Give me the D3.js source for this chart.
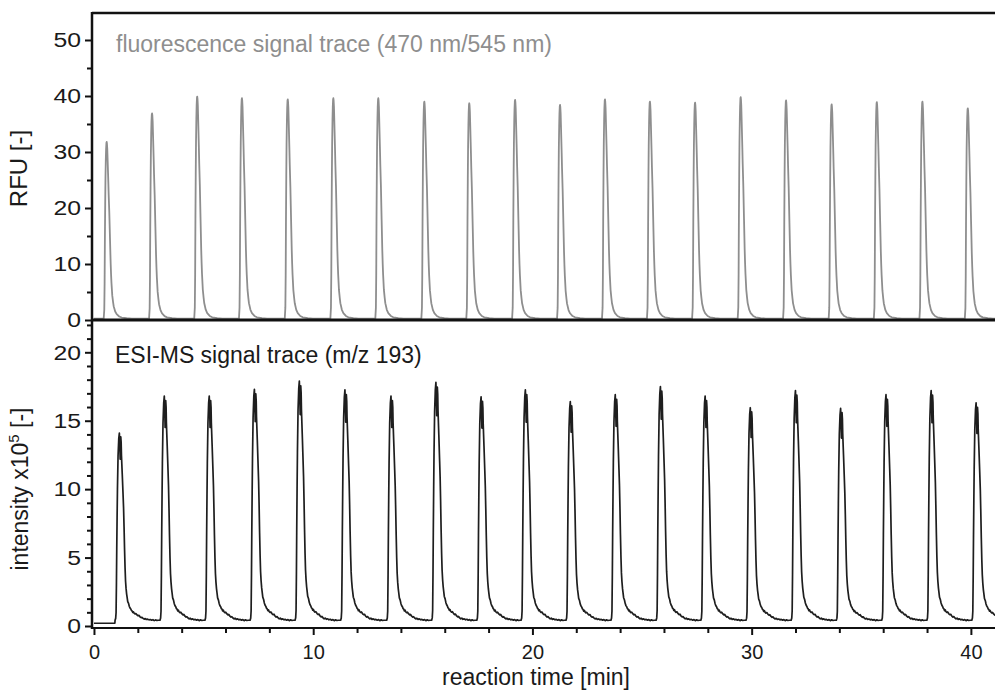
<!DOCTYPE html>
<html>
<head>
<meta charset="utf-8">
<script src="https://cdn.jsdelivr.net/npm/d3@7"></script>
<style>
  html, body { margin: 0; padding: 0; background: #fff; }
  svg { display: block; font-family: "Liberation Sans", Arial, Helvetica, sans-serif; }
</style>
</head>
<body>
<div id="chart"></div>
<script>
// Two stacked traces sharing one time axis: fluorescence on top, ESI-MS below

// apex time [min] and apex height of every peak
const fluoPeakTimes = [0.58, 2.65, 4.71, 6.75, 8.84, 10.92, 12.97, 15.07, 17.12, 19.21,
  21.26, 23.31, 25.36, 27.42, 29.50, 31.57, 33.65, 35.71, 37.79, 39.86];
const fluoPeakHeights = [31.8, 36.9, 39.9, 39.6, 39.4, 39.6, 39.6, 39.0, 38.7, 39.3,
  38.4, 39.4, 39.0, 38.8, 39.8, 39.2, 38.5, 38.9, 39.0, 37.8];

const msPeakTimes = [1.19, 3.24, 5.29, 7.35, 9.40, 11.48, 13.58, 15.63, 17.69, 19.71,
  21.76, 23.81, 25.87, 27.91, 29.97, 32.03, 34.09, 36.16, 38.22, 40.27];
const msPeakHeights = [14.1, 16.8, 16.8, 17.3, 17.9, 17.25, 16.8, 17.8, 16.75, 17.25,
  16.4, 16.9, 17.5, 16.8, 15.95, 17.2, 15.9, 16.9, 17.2, 16.3];

// shape of one peak: [minutes from apex, fraction of apex height above baseline]
const fluoProfile = [
  [-0.137, 0], [-0.11, 0.05], [-0.095, 0.2], [-0.082, 0.45], [-0.068, 0.65], [-0.055, 0.8],
  [-0.04, 0.9], [-0.027, 0.96], [-0.012, 0.995], [0, 1], [0.012, 0.99], [0.027, 0.96],
  [0.04, 0.91], [0.055, 0.85], [0.075, 0.77], [0.091, 0.7], [0.119, 0.6], [0.151, 0.45],
  [0.182, 0.31], [0.2, 0.25], [0.219, 0.2], [0.255, 0.13], [0.29, 0.095], [0.319, 0.07],
  [0.388, 0.04], [0.456, 0.025], [0.57, 0.012], [0.684, 0.006], [0.912, 0.002], [1.14, 0]
];
const msProfile = [
  [-0.228, 0], [-0.2, 0.01], [-0.182, 0.04], [-0.165, 0.2], [-0.151, 0.38], [-0.135, 0.55],
  [-0.119, 0.7], [-0.091, 0.88], [-0.059, 0.97], [-0.032, 1.0], [-0.01, 0.93], [0.005, 0.86],
  [0.02, 0.93], [0.032, 0.98], [0.05, 0.95], [0.064, 0.88], [0.1, 0.78], [0.137, 0.67],
  [0.16, 0.6], [0.182, 0.5], [0.205, 0.38], [0.228, 0.28], [0.25, 0.21], [0.274, 0.17],
  [0.3, 0.14], [0.319, 0.125], [0.35, 0.1], [0.388, 0.09], [0.42, 0.075], [0.456, 0.065],
  [0.49, 0.06], [0.52, 0.052], [0.547, 0.05], [0.58, 0.042], [0.61, 0.045], [0.639, 0.038],
  [0.68, 0.034], [0.72, 0.036], [0.776, 0.028], [0.82, 0.024], [0.86, 0.026], [0.912, 0.018],
  [0.96, 0.014], [1.0, 0.016], [1.05, 0.01], [1.1, 0.006], [1.15, 0.009], [1.2, 0.004],
  [1.26, 0.006], [1.32, 0.002], [1.38, 0.004], [1.44, 0], [1.5, 0.003], [1.56, -0.002],
  [1.62, 0.002], [1.68, -0.001], [1.74, 0]
];
const fluoBase = 0.25;
const msBase = 0.42;
const msLeadBase = 0.2;

const xMajorTicks = [0, 10, 20, 30, 40];
const xMinorTicks = [2, 4, 6, 8, 12, 14, 16, 18, 22, 24, 26, 28, 32, 34, 36, 38];
const fluoMajorTicks = [0, 10, 20, 30, 40, 50];
const fluoMinorTicks = [5, 15, 25, 35, 45];
const msMajorTicks = [0, 5, 10, 15, 20];
const msMinorTicks = [1, 2, 3, 4, 6, 7, 8, 9, 11, 12, 13, 14, 16, 17, 18, 19, 21, 22];

(function() {
  const W = 995, H = 691;
  const left = 92, right = 995, top = 13, split = 320, bottom = 628;

  const svg = d3.select('#chart').append('svg')
    .attr('width', W).attr('height', H);

  const x = d3.scaleLinear().domain([-0.09, 41.1]).range([left, right]);
  const yFluo = d3.scaleLinear().domain([0, 54.82]).range([split, top]);
  const yMs = d3.scaleLinear().domain([-0.146, 22.36]).range([bottom, split]);

  // join the single peak shape into a full trace
  function buildTrace(times, heights, profile, base, leadBase) {
    const pts = [[0, leadBase], [times[0] + profile[0][0] - 0.01, leadBase]];
    times.forEach((t0, i) => {
      profile.forEach(([dt, f]) => {
        pts.push([t0 + dt, base + (heights[i] - base) * f]);
      });
    });
    pts.push([x.domain()[1] + 1, base]);
    return pts;
  }

  const fluoTrace = buildTrace(fluoPeakTimes, fluoPeakHeights, fluoProfile, fluoBase, fluoBase);
  const msTrace = buildTrace(msPeakTimes, msPeakHeights, msProfile, msBase, msLeadBase);

  const defs = svg.append('defs');
  defs.append('clipPath').attr('id', 'clipTop').append('rect')
    .attr('x', left).attr('y', top).attr('width', right - left).attr('height', split - top);
  defs.append('clipPath').attr('id', 'clipBottom').append('rect')
    .attr('x', left).attr('y', split).attr('width', right - left).attr('height', bottom - split);

  svg.append('path')
    .datum(fluoTrace)
    .attr('clip-path', 'url(#clipTop)')
    .attr('fill', 'none')
    .attr('stroke', '#8e8e8e')
    .attr('stroke-width', 1.8)
    .attr('stroke-linejoin', 'round')
    .attr('d', d3.line().x(d => x(d[0])).y(d => yFluo(d[1])));

  svg.append('path')
    .datum(msTrace)
    .attr('clip-path', 'url(#clipBottom)')
    .attr('fill', 'none')
    .attr('stroke', '#1e1e1e')
    .attr('stroke-width', 1.7)
    .attr('stroke-linejoin', 'round')
    .attr('d', d3.line().x(d => x(d[0])).y(d => yMs(d[1])));

  // axes
  function styleAxis(g) {
    g.select('.domain').remove();
    g.selectAll('line').attr('stroke', '#111').attr('stroke-width', 2);
    g.selectAll('text')
      .attr('fill', '#1a1a1a')
      .style('font-size', '20px')
      .style('font-family', '"Liberation Sans", Arial, sans-serif');
  }
  // y labels in the source are drawn a little larger and wider than the x labels
  function widenLabels(g) {
    g.selectAll('text')
      .style('font-size', '21px')
      .attr('transform', 'scale(1.18,1)')
      .attr('x', -11 / 1.18);
  }

  svg.append('g').attr('transform', `translate(${left},0)`)
    .call(d3.axisLeft(yFluo).tickValues(fluoMinorTicks).tickSize(5).tickFormat(''))
    .call(styleAxis);
  svg.append('g').attr('transform', `translate(${left},0)`)
    .call(d3.axisLeft(yFluo).tickValues(fluoMajorTicks).tickSize(7).tickPadding(4).tickFormat(d3.format('d')))
    .call(styleAxis)
    .call(widenLabels);

  svg.append('g').attr('transform', `translate(${left},0)`)
    .call(d3.axisLeft(yMs).tickValues(msMinorTicks).tickSize(5).tickFormat(''))
    .call(styleAxis);
  svg.append('g').attr('transform', `translate(${left},0)`)
    .call(d3.axisLeft(yMs).tickValues(msMajorTicks).tickSize(7).tickPadding(4).tickFormat(d3.format('d')))
    .call(styleAxis)
    .call(widenLabels);

  svg.append('g').attr('transform', `translate(0,${bottom})`)
    .call(d3.axisBottom(x).tickValues(xMinorTicks).tickSize(5).tickFormat(''))
    .call(styleAxis);
  svg.append('g').attr('transform', `translate(0,${bottom})`)
    .call(d3.axisBottom(x).tickValues(xMajorTicks).tickSize(7).tickPadding(10).tickFormat(d3.format('d')))
    .call(styleAxis);

  // frame lines
  const frame = svg.append('g').attr('stroke', '#111').attr('fill', 'none');
  frame.append('line').attr('x1', left).attr('x2', right).attr('y1', top).attr('y2', top).attr('stroke-width', 2.5);
  frame.append('line').attr('x1', left).attr('x2', left).attr('y1', top - 1).attr('y2', bottom + 1).attr('stroke-width', 2.5);
  frame.append('line').attr('x1', left).attr('x2', right).attr('y1', split).attr('y2', split).attr('stroke-width', 3);
  frame.append('line').attr('x1', left).attr('x2', right).attr('y1', bottom).attr('y2', bottom).attr('stroke-width', 2);

  // panel captions
  svg.append('text')
    .attr('x', 116).attr('y', 52)
    .attr('fill', '#8e8e8e')
    .style('font-size', '23px')
    .text('fluorescence signal trace (470 nm/545 nm)');

  svg.append('text')
    .attr('x', 115).attr('y', 363)
    .attr('fill', '#1a1a1a')
    .style('font-size', '23px')
    .text('ESI-MS signal trace (m/z 193)');

  // axis titles
  svg.append('text')
    .attr('text-anchor', 'middle')
    .attr('transform', `translate(27,${(yFluo(0) + yFluo(54.82)) / 2 + 2}) rotate(-90)`)
    .attr('fill', '#1a1a1a')
    .style('font-size', '24px')
    .text('RFU [-]');

  const msTitle = svg.append('text')
    .attr('text-anchor', 'middle')
    .attr('transform', `translate(28,489) rotate(-90)`)
    .attr('fill', '#1a1a1a')
    .style('font-size', '23px');
  msTitle.append('tspan').text('intensity x10');
  msTitle.append('tspan').attr('dy', -9).style('font-size', '15px').text('5');
  msTitle.append('tspan').attr('dy', 9).text(' [-]');

  svg.append('text')
    .attr('x', 536).attr('y', 685)
    .attr('text-anchor', 'middle')
    .attr('fill', '#1a1a1a')
    .style('font-size', '23px')
    .text('reaction time [min]');
})();
</script>
</body>
</html>
